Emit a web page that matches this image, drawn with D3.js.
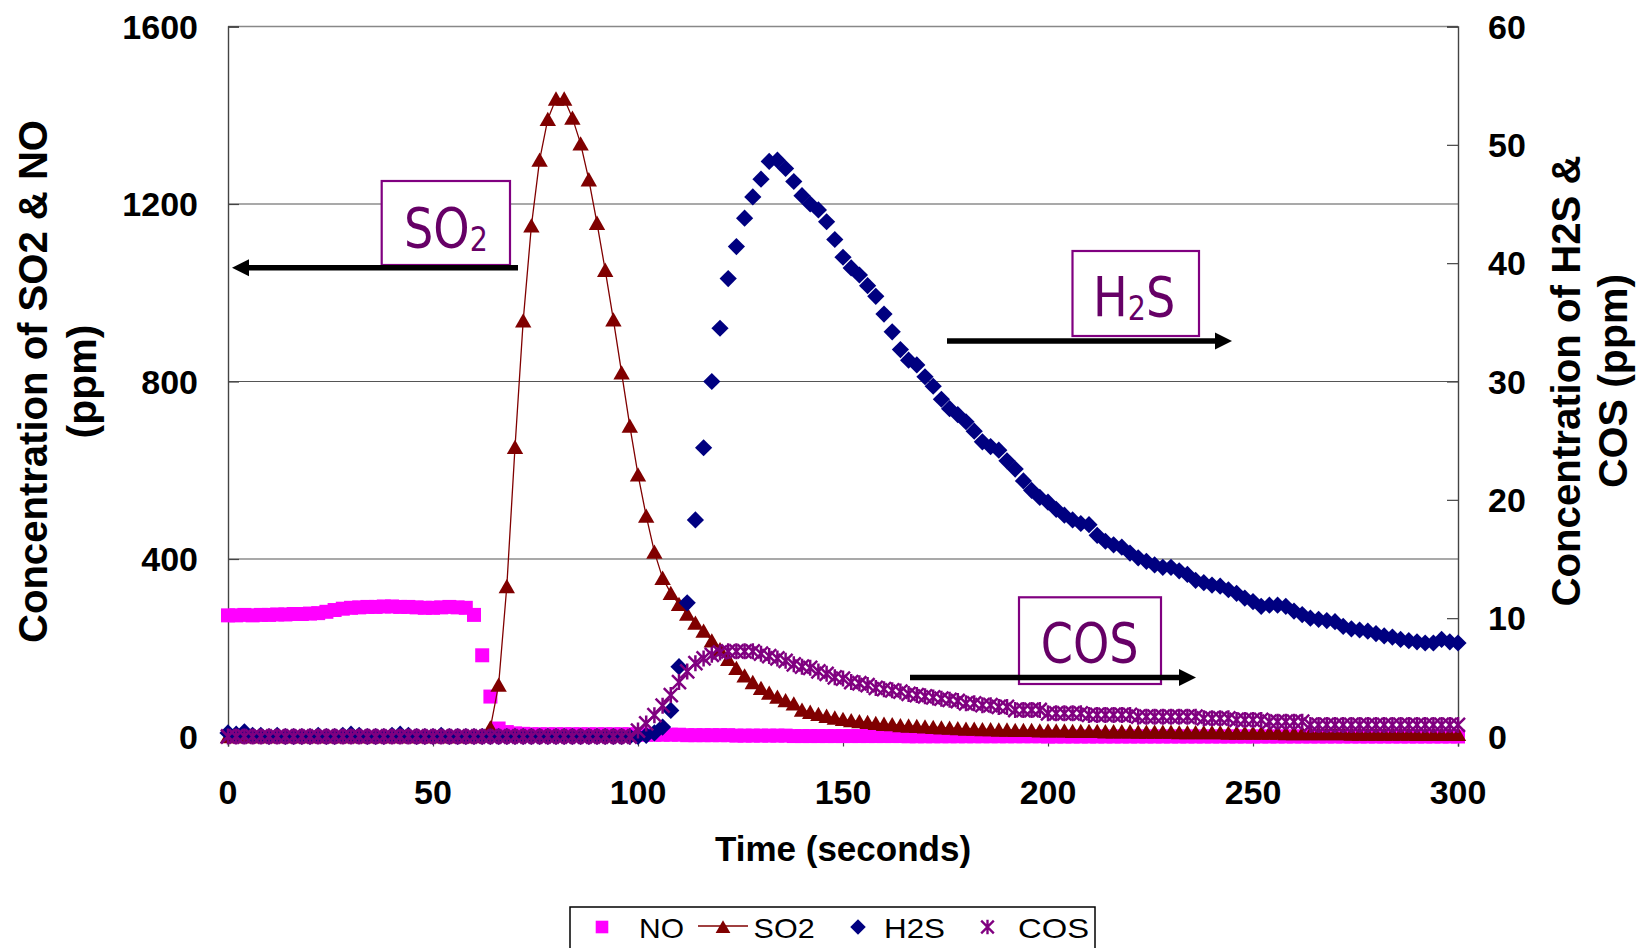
<!DOCTYPE html>
<html>
<head>
<meta charset="utf-8">
<script src="https://cdn.jsdelivr.net/npm/d3@7"></script>
<style>
  body { margin: 0; background: #fff; }
  svg { display: block; }
</style>
</head>
<body>
<div id="chart"></div>
<script>
// time axis, one reading every 2 seconds
const times = d3.range(0, 301, 2);

// left axis (ppm)
const noValues = [
  273, 273, 274, 273, 274, 274, 275, 275, 276, 276,
  277, 278, 281, 285, 288, 290, 291, 292, 292, 293,
  293, 292, 292, 291, 290, 290, 291, 292, 291, 290,
  274, 183, 90, 18, 10, 7, 6, 5, 5, 5,
  5, 5, 5, 5, 5, 5, 5, 5, 5, 5,
  5, 4, 4, 4, 4, 4, 3, 3, 3, 3,
  3, 3, 2, 2, 2, 2, 2, 2, 2, 1,
  1, 1, 1, 1, 1, 1, 1, 1, 1, 1,
  1, 1, 1, 0.5, 0.5, 0.5, 0.5, 0.5, 0.5, 0.5,
  0.5, 0.5, 0.5, 0.5, 0.5, 0.5, 0.5, 0.5, 0.5, 0.5,
  0, 0, 0, 0, 0, 0, 0, 0, 0, 0,
  0, 0, 0, 0, 0, 0, 0, 0, 0, 0,
  0, 0, 0, 0, 0, 0, 0, 0, 0, 0,
  0, 0, 0, 0, 0, 0, 0, 0, 0, 0,
  0, 0, 0, 0, 0, 0, 0, 0, 0, 0, 0
];

const so2Values = [
  0, 0, 0, 0, 0, 0, 0, 0, 0, 0,
  0, 0, 0, 0, 0, 0, 0, 0, 0, 0,
  0, 0, 0, 0, 0, 0, 0, 0, 0, 0,
  0, 2, 20, 116, 338, 652, 937, 1151, 1299, 1391,
  1437, 1437, 1394, 1336, 1255, 1157, 1051, 939, 820, 700,
  590, 497, 416, 357, 323, 298, 276, 256, 238, 216,
  196, 174, 154, 137, 122, 109, 98, 89, 81, 74,
  60, 55, 50, 46, 42, 39, 36, 34, 32, 30,
  28, 27, 25, 24, 23, 22, 21, 20, 19, 18,
  17, 17, 16, 16, 15, 15, 14, 14, 14, 13,
  13, 13, 13, 12, 12, 12, 12, 11, 11, 11,
  11, 10, 10, 10, 10, 10, 9, 9, 9, 9,
  9, 9, 8, 8, 8, 8, 8, 8, 8, 7,
  7, 7, 7, 7, 7, 7, 7, 6, 6, 6,
  6, 6, 6, 6, 6, 5, 5, 5, 5, 5, 5
];

// right axis (ppm)
const h2sValues = [
  0.3, 0.2, 0.4, 0.1, 0.1, 0, 0.1, 0, 0, 0,
  0, 0.1, 0, 0, 0.1, 0.2, 0.1, 0, 0, 0,
  0.1, 0.2, 0.1, 0, 0, 0, 0.1, 0, 0, 0,
  0, 0, 0, 0, 0, 0, 0, 0, 0, 0,
  0, 0, 0, 0, 0, 0, 0, 0, 0, 0,
  0, 0.1, 0.3, 0.8, 2.2, 5.9, 11.3, 18.3, 24.4, 30.0,
  34.5, 38.7, 41.4, 43.8, 45.6, 47.1, 48.6, 48.7, 48.0, 46.9,
  45.7, 45.0, 44.5, 43.5, 42.0, 40.5, 39.6, 39.0, 38.1, 37.2,
  35.7, 34.2, 32.7, 31.8, 31.4, 30.4, 29.6, 28.5, 27.7, 27.2,
  26.6, 25.8, 24.9, 24.5, 24.2, 23.3, 22.6, 21.6, 20.8, 20.2,
  19.8, 19.2, 18.7, 18.3, 18.0, 17.9, 17.0, 16.5, 16.2, 16.0,
  15.5, 15.1, 14.8, 14.5, 14.3, 14.3, 14.0, 13.7, 13.2, 13.0,
  12.8, 12.7, 12.4, 12.1, 11.7, 11.4, 11.0, 11.1, 11.1, 11.0,
  10.6, 10.3, 10.0, 9.9, 9.8, 9.7, 9.3, 9.1, 9.0, 8.9,
  8.7, 8.5, 8.4, 8.2, 8.1, 8.0, 7.9, 7.9, 8.2, 8.0, 7.9
];

const cosValues = [
  0, 0, 0, 0, 0, 0, 0, 0, 0, 0,
  0, 0, 0, 0, 0, 0, 0, 0, 0, 0,
  0, 0, 0, 0, 0, 0, 0, 0, 0, 0,
  0, 0, 0, 0, 0, 0, 0, 0, 0, 0,
  0, 0, 0, 0, 0, 0, 0, 0, 0, 0,
  0.5, 1.1, 1.8, 2.6, 3.5, 4.6, 5.5, 6.2, 6.6, 6.9,
  7.1, 7.2, 7.2, 7.2, 7.2, 7.0, 6.8, 6.6, 6.4, 6.1,
  5.9, 5.8, 5.5, 5.3, 5.0, 4.9, 4.6, 4.5, 4.35, 4.1,
  4.0, 3.9, 3.8, 3.6, 3.5, 3.4, 3.3, 3.2, 3.1, 3.0,
  2.8, 2.8, 2.65, 2.65, 2.5, 2.5, 2.24, 2.24, 2.24, 2.24,
  1.96, 1.96, 1.96, 1.96, 1.96, 1.82, 1.82, 1.82, 1.82, 1.82,
  1.82, 1.67, 1.67, 1.67, 1.67, 1.67, 1.67, 1.67, 1.67, 1.54,
  1.54, 1.54, 1.54, 1.40, 1.40, 1.40, 1.40, 1.25, 1.25, 1.25,
  1.25, 1.25, 0.98, 0.98, 0.98, 0.98, 0.98, 0.98, 0.98, 0.98,
  0.98, 0.98, 0.98, 0.98, 0.98, 0.98, 0.98, 0.98, 0.98, 0.98, 0.98
];

const xTicks = [0, 50, 100, 150, 200, 250, 300];
const leftTicks = [0, 400, 800, 1200, 1600];
const rightTicks = [0, 10, 20, 30, 40, 50, 60];
const legendNames = ["NO", "SO2", "H2S", "COS"];

const svgWidth = 1639;
const svgHeight = 948;
const plot = { left: 228, right: 1458, top: 26.5, bottom: 736.5 };
const font = "'Liberation Sans', Arial, sans-serif";

const colors = { NO: "#ff00ff", SO2: "#800000", H2S: "#000080", COS: "#800080" };

const markerPath = {
  NO: "M-7,-7h14v14h-14Z",
  SO2: "M0,-7.5L8.2,6.8L-8.2,6.8Z",
  H2S: "M0,-8.6L8.6,0L0,8.6L-8.6,0Z",
  COS: "M-7,-7L7,7M7,-7L-7,7M0,-8L0,8"
};

const drawChart = () => {
  const svg = d3.select("#chart")
    .append("svg")
    .attr("width", svgWidth)
    .attr("height", svgHeight);

  const xScale = d3.scaleLinear().domain([0, 300]).range([plot.left, plot.right]);
  const yLeft = d3.scaleLinear().domain([0, 1600]).range([plot.bottom, plot.top]);
  const yRight = d3.scaleLinear().domain([0, 60]).range([plot.bottom, plot.top]);

  // gridlines
  svg.append("g")
    .selectAll("line")
    .data(leftTicks.filter(d => d > 0))
    .enter().append("line")
    .attr("x1", plot.left).attr("x2", plot.right)
    .attr("y1", d => yLeft(d)).attr("y2", d => yLeft(d))
    .attr("stroke", d => d === 1600 ? "#888" : "#555")
    .attr("stroke-width", d => d === 1600 ? 1.6 : 1.1);

  // axes
  const leftAxis = svg.append("g")
    .attr("transform", `translate(${plot.left},0)`)
    .call(d3.axisRight(yLeft).tickValues(leftTicks).tickSize(11).tickFormat(""));
  const rightAxis = svg.append("g")
    .attr("transform", `translate(${plot.right},0)`)
    .call(d3.axisLeft(yRight).tickValues(rightTicks).tickSize(11).tickFormat(""));
  const bottomAxis = svg.append("g")
    .attr("transform", `translate(0,${plot.bottom})`)
    .call(d3.axisBottom(xScale).tickValues(xTicks).tickSize(10).tickFormat(""));
  [leftAxis, rightAxis, bottomAxis].forEach(g => {
    g.select(".domain").attr("stroke", "#444").attr("stroke-width", 1.4);
    g.selectAll(".tick line").attr("stroke", "#444").attr("stroke-width", 1.2);
  });

  // tick labels
  svg.append("g").selectAll("text").data(leftTicks).enter().append("text")
    .attr("x", 198).attr("y", d => yLeft(d) + 12)
    .attr("text-anchor", "end")
    .style("font", `bold 34px ${font}`)
    .text(d => d);
  svg.append("g").selectAll("text").data(rightTicks).enter().append("text")
    .attr("x", 1488).attr("y", d => yRight(d) + 12)
    .style("font", `bold 34px ${font}`)
    .text(d => d);
  svg.append("g").selectAll("text").data(xTicks).enter().append("text")
    .attr("x", d => xScale(d)).attr("y", 804)
    .attr("text-anchor", "middle")
    .style("font", `bold 34px ${font}`)
    .text(d => d);

  // axis titles
  svg.append("text")
    .attr("x", 843).attr("y", 861)
    .attr("text-anchor", "middle")
    .style("font", `bold 35px ${font}`)
    .text("Time (seconds)");

  const leftTitle = svg.append("g").attr("transform", "translate(47,381.5) rotate(-90)");
  leftTitle.append("text").attr("text-anchor", "middle")
    .attr("textLength", 523).attr("lengthAdjust", "spacingAndGlyphs")
    .style("font", `bold 41px ${font}`)
    .text("Concentration of SO2 & NO");
  leftTitle.append("text").attr("y", 49).attr("text-anchor", "middle")
    .style("font", `bold 41px ${font}`)
    .text("(ppm)");

  const rightTitle = svg.append("g").attr("transform", "translate(1580,381) rotate(-90)");
  rightTitle.append("text").attr("text-anchor", "middle")
    .attr("textLength", 451).attr("lengthAdjust", "spacingAndGlyphs")
    .style("font", `bold 41px ${font}`)
    .text("Concentration of H2S &");
  rightTitle.append("text").attr("y", 47).attr("text-anchor", "middle")
    .style("font", `bold 41px ${font}`)
    .text("COS (ppm)");

  // series
  const series = [
    { name: "NO", values: noValues, y: yLeft },
    { name: "SO2", values: so2Values, y: yLeft },
    { name: "H2S", values: h2sValues, y: yRight },
    { name: "COS", values: cosValues, y: yRight }
  ];

  series.forEach(s => {
    const points = times.map((t, i) => ({ t, v: s.values[i] }));
    if (s.name === "SO2") {
      const line = d3.line().x(d => xScale(d.t)).y(d => s.y(d.v));
      svg.append("path")
        .attr("d", line(points))
        .attr("fill", "none")
        .attr("stroke", colors.SO2)
        .attr("stroke-width", 1.3);
    }
    const isStar = s.name === "COS";
    svg.append("g")
      .selectAll("path")
      .data(points)
      .enter().append("path")
      .attr("transform", d => `translate(${xScale(d.t)},${s.y(d.v)})`)
      .attr("d", markerPath[s.name])
      .attr("fill", isStar ? "none" : colors[s.name])
      .attr("stroke", isStar ? colors.COS : "none")
      .attr("stroke-width", isStar ? 2.5 : 0);
  });

  // annotation boxes and arrows (labels squeezed sideways like the original)
  const notes = [
    { box: [381.7, 181, 128.3, 84], text: ["SO", "2", ""], x: 404, y: 246.7,
      arrow: { from: 518, to: 232, y: 267.7 } },
    { box: [1072.5, 251, 126.5, 85], text: ["H", "2", "S"], x: 1093, y: 315.7,
      arrow: { from: 947, to: 1232, y: 341 } },
    { box: [1019, 597.3, 142, 86.7], text: ["COS", "", ""], x: 1040.7, y: 661.7,
      arrow: { from: 910, to: 1196, y: 677.5 } }
  ];

  notes.forEach(n => {
    svg.append("rect")
      .attr("x", n.box[0]).attr("y", n.box[1])
      .attr("width", n.box[2]).attr("height", n.box[3])
      .attr("fill", "#fff").attr("stroke", "#800080").attr("stroke-width", 2.2);
    const label = svg.append("text")
      .attr("transform", `translate(${n.x},${n.y}) scale(0.84,1)`)
      .attr("fill", "#660066")
      .style("font", "55px 'DejaVu Sans', Verdana, sans-serif");
    label.append("tspan").text(n.text[0]);
    if (n.text[1]) label.append("tspan").attr("dy", 4).style("font-size", "34px").text(n.text[1]);
    if (n.text[2]) label.append("tspan").attr("dy", -4).text(n.text[2]);

    const a = n.arrow;
    const dir = a.to > a.from ? 1 : -1;
    const base = a.to - dir * 17;
    svg.append("line")
      .attr("x1", a.from).attr("x2", base)
      .attr("y1", a.y).attr("y2", a.y)
      .attr("stroke", "#000").attr("stroke-width", 5.5);
    svg.append("path")
      .attr("d", `M${a.to},${a.y}L${base},${a.y - 8.5}L${base},${a.y + 8.5}Z`)
      .attr("fill", "#000");
  });

  // legend
  const legend = svg.append("g");
  legend.append("rect")
    .attr("x", 570).attr("y", 907).attr("width", 525).attr("height", 70)
    .attr("fill", "#fff").attr("stroke", "#000").attr("stroke-width", 1.5);
  const legendItems = [
    { name: legendNames[0], mx: 602, tx: 639, w: 45 },
    { name: legendNames[1], mx: 723, tx: 753.6, w: 61 },
    { name: legendNames[2], mx: 858, tx: 884, w: 61 },
    { name: legendNames[3], mx: 987.5, tx: 1018, w: 71 }
  ];
  legendItems.forEach(item => {
    if (item.name === "SO2") {
      legend.append("line")
        .attr("x1", 698).attr("x2", 748).attr("y1", 926).attr("y2", 926)
        .attr("stroke", colors.SO2).attr("stroke-width", 1.3);
    }
    const isStar = item.name === "COS";
    legend.append("path")
      .attr("transform", `translate(${item.mx},927) scale(0.9)`)
      .attr("d", markerPath[item.name])
      .attr("fill", isStar ? "none" : colors[item.name])
      .attr("stroke", isStar ? colors.COS : "none")
      .attr("stroke-width", isStar ? 2.6 : 0);
    legend.append("text")
      .attr("x", item.tx).attr("y", 938)
      .attr("textLength", item.w).attr("lengthAdjust", "spacingAndGlyphs")
      .style("font", `28px ${font}`)
      .text(item.name);
  });
};

window.onload = drawChart;
</script>
</body>
</html>
